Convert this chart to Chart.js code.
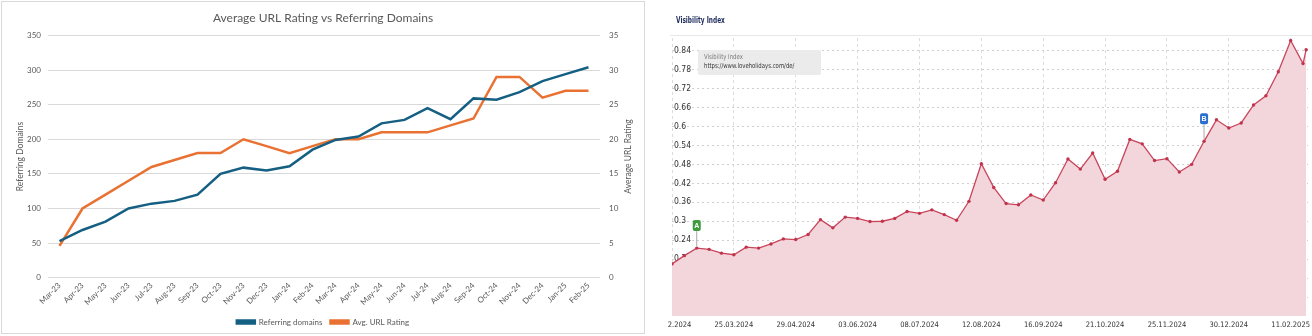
<!DOCTYPE html>
<html>
<head>
<meta charset="utf-8">
<script src="https://cdn.jsdelivr.net/npm/chart.js@4.4.1/dist/chart.umd.min.js"></script>
<style>
  body { margin: 0; width: 1312px; height: 336px; position: relative; background: #fff; overflow: hidden; }
  .frame { position: absolute; left: 1px; top: 1px; width: 644px; height: 333px; border: 1px solid #d9d9d9; box-sizing: border-box; }
  #leftWrap { position: absolute; left: 2px; top: 2px; width: 642px; height: 334px; }
  #rightWrap { position: absolute; left: 668px; top: 0; width: 644px; height: 336px; }
  .vi-title { position: absolute; left: 676px; top: 16px; font: bold 9px 'Liberation Sans Narrow', 'DejaVu Sans Condensed', Arial, sans-serif; color: #1d2b5c; line-height: 9px;
              transform: scaleX(0.72); transform-origin: left top; }
  .vi-sep { position: absolute; left: 670px; top: 35px; width: 642px; height: 1px; background: #e8e8e8; }
  .vi-box { position: absolute; left: 698px; top: 50px; width: 123px; height: 25px; background: #ebebeb; border-radius: 2px;
            font: 7px 'Liberation Sans Narrow', 'DejaVu Sans Condensed', Arial, sans-serif; line-height: 9px; }
  .vi-box div { position: absolute; left: 6px; transform: scaleX(0.85); transform-origin: left top; white-space: nowrap; }
</style>
</head>
<body>
<div class="frame"></div>
<div id="leftWrap"><canvas id="urChart"></canvas></div>

<div id="rightWrap"><canvas id="viChart"></canvas></div>
<div class="vi-title">Visibility Index</div>
<div class="vi-sep"></div>
<div class="vi-box">
  <div style="top:3px; color:#7a7a7a">Visibility Index</div>
  <div style="top:12px; color:#333">https://www.loveholidays.com/de/</div>
</div>

<script>
// left chart: monthly backlink data
const months = ['Mar-23', 'Apr-23', 'May-23', 'Jun-23', 'Jul-23', 'Aug-23', 'Sep-23', 'Oct-23', 'Nov-23', 'Dec-23', 'Jan-24', 'Feb-24',
    'Mar-24', 'Apr-24', 'May-24', 'Jun-24', 'Jul-24', 'Aug-24', 'Sep-24', 'Oct-24', 'Nov-24', 'Dec-24', 'Jan-25', 'Feb-25'];
const refDomains = [53, 69, 81, 100, 107, 111, 120, 150, 159, 155, 161, 185, 199, 204, 223, 228, 245, 229, 259, 257, 268, 284, 294, 304];
const avgRating = [4.6, 10, 12, 14, 16, 17, 18, 18, 20, 19, 18, 19, 20, 20, 21, 21, 21, 22, 23, 29, 29, 26, 27, 27];

// right chart: weekly visibility index
const visValues = [0.165, 0.191, 0.215, 0.211, 0.199, 0.194, 0.218, 0.215, 0.228, 0.244,
    0.242, 0.258, 0.305, 0.279, 0.313, 0.309, 0.299, 0.300, 0.309, 0.331,
    0.325, 0.336, 0.321, 0.303, 0.363, 0.482, 0.407, 0.356, 0.352, 0.383,
    0.367, 0.422, 0.497, 0.465, 0.516, 0.433, 0.458, 0.559, 0.545, 0.492,
    0.498, 0.456, 0.480, 0.553, 0.621, 0.595, 0.611, 0.668, 0.697, 0.773,
    0.872, 0.799, 0.843];
const visTickIdx = [0, 5, 10, 15, 20, 25, 30, 35, 40, 45, 50];
const visTickLabels = ['19.02.2024', '25.03.2024', '29.04.2024', '03.06.2024', '08.07.2024', '12.08.2024',
    '16.09.2024', '21.10.2024', '25.11.2024', '30.12.2024', '11.02.2025'];
const visYTicks = [0.06, 0.12, 0.18, 0.24, 0.3, 0.36, 0.42, 0.48, 0.54, 0.6, 0.66, 0.72, 0.78, 0.84];
const markerIdx = [2, 43];
const markerText = ['A', 'B'];
const markerColor = ['#3d9a3d', '#2a6fcf'];

// week position of each reading, the last one is a mid-week update
let visX = visValues.map((v, i) => i);
visX[52] = 51.25;

const gray = '#595959';
const lato = 'Lato, "Open Sans", sans-serif';
const narrow = "'Liberation Sans Narrow', 'DejaVu Sans Condensed', Arial, sans-serif";

const rightTitle = {
    id: 'rightTitle',
    afterDraw(chart) {
        let ctx = chart.ctx;
        let area = chart.chartArea;
        ctx.save();
        ctx.translate(626, (area.top + area.bottom) / 2);
        ctx.rotate(-Math.PI / 2);
        ctx.fillStyle = gray;
        ctx.font = '8.5px ' + lato;
        ctx.textAlign = 'center';
        ctx.textBaseline = 'middle';
        ctx.fillText('Average URL Rating', 0, 0);
        ctx.restore();
    }
};

new Chart(document.getElementById('urChart'), {
    type: 'line',
    data: {
        labels: months,
        datasets: [{
            label: 'Referring domains',
            data: refDomains,
            borderColor: '#156082',
            backgroundColor: '#156082',
            borderWidth: 2.5,
            pointRadius: 0,
            yAxisID: 'y'
        }, {
            label: 'Avg. URL Rating',
            data: avgRating,
            borderColor: '#E97132',
            backgroundColor: '#E97132',
            borderWidth: 2.5,
            pointRadius: 0,
            yAxisID: 'y1'
        }]
    },
    options: {
        responsive: true,
        maintainAspectRatio: false,
        animation: false,
        layout: { padding: 0 },
        plugins: {
            title: {
                display: true,
                text: 'Average URL Rating vs Referring Domains',
                color: gray,
                font: { family: lato, size: 12, weight: 'normal' },
                padding: { top: 9, bottom: 10 }
            },
            legend: {
                position: 'bottom',
                labels: {
                    boxWidth: 18,
                    boxHeight: 3,
                    padding: 8,
                    color: gray,
                    font: { family: lato, size: 8 }
                }
            },
            tooltip: { enabled: false }
        },
        scales: {
            x: {
                offset: true,
                grid: { display: false, drawTicks: false },
                border: { display: false },
                ticks: {
                    color: gray,
                    font: { family: lato, size: 8 },
                    minRotation: 45,
                    maxRotation: 45,
                    autoSkip: false,
                    padding: 3
                }
            },
            y: {
                position: 'left',
                min: 0,
                max: 350,
                ticks: { stepSize: 50, color: gray, font: { family: lato, size: 8 }, padding: 7 },
                grid: { color: '#d9d9d9', drawTicks: false },
                border: { display: false },
                title: {
                    display: true,
                    text: 'Referring Domains',
                    color: gray,
                    font: { family: lato, size: 8.5 },
                    padding: { top: 13, bottom: 0 }
                },
                afterFit: (s) => { s.width = 46; }
            },
            y1: {
                position: 'right',
                min: 0,
                max: 35,
                ticks: { stepSize: 5, color: gray, font: { family: lato, size: 8 }, padding: 9 },
                grid: { drawOnChartArea: false, drawTicks: false },
                border: { display: false },
                afterFit: (s) => { s.width = 44; }
            }
        }
    },
    plugins: [rightTitle]
});

const markerPlugin = {
    id: 'markers',
    afterDatasetsDraw(chart) {
        let ctx = chart.ctx;
        let xs = chart.scales.x;
        let ys = chart.scales.y;
        for (let k = 0; k < markerIdx.length; k++) {
            let px = xs.getPixelForValue(visX[markerIdx[k]]);
            let py = ys.getPixelForValue(visValues[markerIdx[k]]);
            ctx.save();
            ctx.strokeStyle = '#a8a8a8';
            ctx.lineWidth = 1;
            ctx.beginPath();
            ctx.moveTo(px, py - 2);
            ctx.lineTo(px, py - 17);
            ctx.stroke();
            ctx.fillStyle = markerColor[k];
            ctx.beginPath();
            ctx.roundRect(px - 4, py - 28, 8, 11, 2);
            ctx.fill();
            ctx.fillStyle = '#fff';
            ctx.font = 'bold 7px Arial, sans-serif';
            ctx.textAlign = 'center';
            ctx.textBaseline = 'middle';
            ctx.fillText(markerText[k], px, py - 22.3);
            ctx.restore();
        }
    }
};

new Chart(document.getElementById('viChart'), {
    type: 'line',
    data: {
        datasets: [{
            label: 'Visibility Index',
            data: visValues.map((v, i) => ({ x: visX[i], y: v })),
            borderColor: '#c9455c',
            borderWidth: 1.3,
            backgroundColor: '#f3d6db',
            fill: 'origin',
            tension: 0,
            pointRadius: 1.7,
            pointBorderWidth: 0,
            pointBackgroundColor: '#c0334b'
        }]
    },
    options: {
        responsive: true,
        maintainAspectRatio: false,
        animation: false,
        layout: { padding: { top: 38, left: 2, right: 0, bottom: 0 } },
        plugins: {
            legend: { display: false },
            tooltip: { enabled: false }
        },
        scales: {
            x: {
                type: 'linear',
                min: 0,
                max: 51.4,
                afterBuildTicks: (s) => { s.ticks = visTickIdx.map(v => ({ value: v })); },
                ticks: {
                    autoSkip: false,
                    maxRotation: 0,
                    color: '#333',
                    font: { family: narrow, size: 7.5 },
                    padding: 5,
                    callback: (v) => visTickLabels[visTickIdx.indexOf(v)]
                },
                grid: { color: '#dcdcdc', drawTicks: false },
                border: { display: false, dash: [3, 3] },
                afterFit: (s) => { s.height = 20; s.paddingLeft = 0; s.paddingRight = 0; }
            },
            y: {
                min: 0,
                max: 0.88,
                afterBuildTicks: (s) => { s.ticks = visYTicks.map(v => ({ value: v })); },
                ticks: {
                    mirror: true,
                    padding: 2,
                    color: '#333',
                    font: { family: narrow, size: 8.5 },
                    callback: (v) => String(v)
                },
                grid: { color: '#cfcfcf', drawTicks: false },
                border: { display: false, dash: [2, 3] },
                afterFit: (s) => { s.width = 0; }
            }
        }
    },
    plugins: [markerPlugin]
});
</script>
</body>
</html>
